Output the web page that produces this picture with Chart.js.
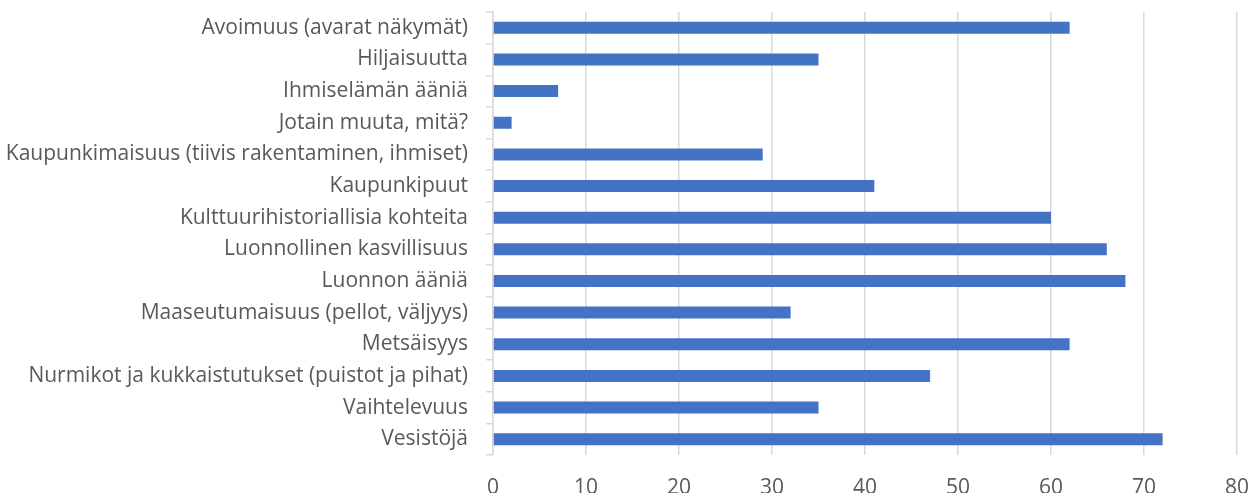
<!DOCTYPE html>
<html>
<head>
<meta charset="utf-8">
<script src="https://cdn.jsdelivr.net/npm/chart.js@4.4.1/dist/chart.umd.min.js"></script>
<style>
  html, body { margin: 0; padding: 0; background: #fff; }
  #wrap { width: 1257px; height: 493px; position: relative; }
</style>
</head>
<body>
<div id="wrap"><canvas id="chart"></canvas></div>
<script>
// ── Data ──────────────────────────────────────────────────────────────────────
const categories = [
  "Avoimuus (avarat näkymät)",
  "Hiljaisuutta",
  "Ihmiselämän ääniä",
  "Jotain muuta, mitä?",
  "Kaupunkimaisuus (tiivis rakentaminen, ihmiset)",
  "Kaupunkipuut",
  "Kulttuurihistoriallisia kohteita",
  "Luonnollinen kasvillisuus",
  "Luonnon ääniä",
  "Maaseutumaisuus (pellot, väljyys)",
  "Metsäisyys",
  "Nurmikot ja kukkaistutukset (puistot ja pihat)",
  "Vaihtelevuus",
  "Vesistöjä",
];
const values = [62, 35, 7, 2, 29, 41, 60, 66, 68, 32, 62, 47, 35, 72];
const xMin = 0, xMax = 80, xStep = 10;

// ── Style ─────────────────────────────────────────────────────────────────────
const COLORS = {
  bar:  "#4472C4",
  grid: "#d9d9d9",
  text: "#595959",
};
const FONT = "'Open Sans', 'Noto Sans', sans-serif";

new Chart(document.getElementById("chart").getContext("2d"), {
  type: "bar",
  data: {
    labels: categories,
    datasets: [{
      data:               values,
      backgroundColor:    COLORS.bar,
      borderWidth:        0,
      barPercentage:      0.38,
      categoryPercentage: 1.0,
    }],
  },
  options: {
    indexAxis:           "y",
    responsive:          true,
    maintainAspectRatio: false,
    animation:           false,
    layout: { padding: { top: 12, right: 20, bottom: 0, left: 0 } },
    plugins: {
      legend:  { display: false },
      tooltip: { enabled: false },
    },
    scales: {
      x: {
        min: xMin, max: xMax,
        ticks: {
          stepSize: xStep,
          color:    COLORS.text,
          padding:  20,
          font:     { family: FONT, size: 21 },
        },
        grid:   { color: COLORS.grid, lineWidth: 1.5, drawTicks: false },
        border: { display: false },
        afterFit: (scale) => {
          scale.height = 38;
          scale.paddingLeft = 0;
          scale.paddingRight = 0;
        },
      },
      y: {
        ticks: {
          color:   COLORS.text,
          padding: 18,
          font:    { family: FONT, size: 21 },
        },
        grid: {
          color:           COLORS.grid,
          lineWidth:       1.5,
          drawOnChartArea: false,
          drawTicks:       true,
          tickLength:      7,
        },
        border: { display: true, color: COLORS.grid, width: 1.5 },
        afterFit: (scale) => {
          scale.width = 493;
          scale.paddingTop = 0;
          scale.paddingBottom = 0;
        },
      },
    },
  },
});
</script>
</body>
</html>
